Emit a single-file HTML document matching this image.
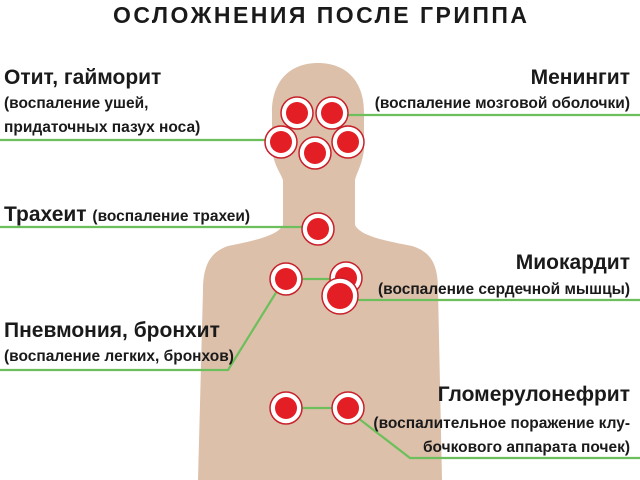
<!DOCTYPE html>
<html><head><meta charset="utf-8"><style>
html,body{margin:0;padding:0;background:#fff}
svg{display:block}
text{font-family:"Liberation Sans",sans-serif;font-weight:bold;fill:#1a1a1a}
.h{font-size:21px}
.s{font-size:15.5px}
</style></head><body>
<svg width="640" height="480" viewBox="0 0 640 480">
<path fill="#dcc0aa" d="M318,63 C347,63 364,82 364,112 L364,150 C362,165 357,172 355,180 L355,225 C360,235 380,240 412,246 C432,252 438,266 438,290 L442,480 L198,480 L203,290 C203,266 210,252 228,246 C258,240 278,235 283,225 L283,180 C280,172 274,165 272,150 L272,112 C272,82 289,63 318,63 Z"/>
<g stroke="#6cbf5a" stroke-width="2.2" fill="none">
<line x1="0" y1="140" x2="281" y2="140"/>
<line x1="332" y1="115" x2="640" y2="115"/>
<line x1="0" y1="227" x2="318" y2="227"/>
<line x1="286" y1="279" x2="346" y2="279"/>
<polyline points="277,291 228,370 0,370"/>
<line x1="340" y1="300" x2="640" y2="300"/>
<line x1="286" y1="408" x2="348" y2="408"/>
<polyline points="358,418 410,458 640,458"/>
</g>
<g fill="#e31e24" stroke="#c8202a" stroke-width="1.5">
<circle cx="297" cy="113" r="16" fill="#fff"/><circle cx="297" cy="113" r="11" stroke="none"/>
<circle cx="332" cy="113" r="16" fill="#fff"/><circle cx="332" cy="113" r="11" stroke="none"/>
<circle cx="281" cy="142" r="16" fill="#fff"/><circle cx="281" cy="142" r="11" stroke="none"/>
<circle cx="348" cy="142" r="16" fill="#fff"/><circle cx="348" cy="142" r="11" stroke="none"/>
<circle cx="315" cy="153" r="16" fill="#fff"/><circle cx="315" cy="153" r="11" stroke="none"/>
<circle cx="318" cy="229" r="16" fill="#fff"/><circle cx="318" cy="229" r="11" stroke="none"/>
<circle cx="286" cy="279" r="16" fill="#fff"/><circle cx="286" cy="279" r="11" stroke="none"/>
<circle cx="346" cy="278" r="16" fill="#fff"/><circle cx="346" cy="278" r="11" stroke="none"/>
<circle cx="340" cy="296" r="18" fill="#fff"/><circle cx="340" cy="296" r="13" stroke="none"/>
<circle cx="286" cy="408" r="16" fill="#fff"/><circle cx="286" cy="408" r="11" stroke="none"/>
<circle cx="348" cy="408" r="16" fill="#fff"/><circle cx="348" cy="408" r="11" stroke="none"/>
</g>
<text x="320" y="23" text-anchor="middle" style="font-size:23px" textLength="414">ОСЛОЖНЕНИЯ ПОСЛЕ ГРИППА</text>
<text x="4" y="84" class="h">Отит, гайморит</text>
<text x="4" y="108" class="s">(воспаление ушей,</text>
<text x="4" y="132" class="s">придаточных пазух носа)</text>
<text x="630" y="84" class="h" text-anchor="end">Менингит</text>
<text x="630" y="108" class="s" text-anchor="end">(воспаление мозговой оболочки)</text>
<text x="4" y="221" class="h">Трахеит <tspan class="s">(воспаление трахеи)</tspan></text>
<text x="630" y="269" class="h" text-anchor="end">Миокардит</text>
<text x="630" y="294" class="s" text-anchor="end">(воспаление сердечной мышцы)</text>
<text x="4" y="337" class="h">Пневмония, бронхит</text>
<text x="4" y="361" class="s">(воспаление легких, бронхов)</text>
<text x="630" y="401" class="h" text-anchor="end">Гломерулонефрит</text>
<text x="630" y="428" class="s" text-anchor="end">(воспалительное поражение клу-</text>
<text x="630" y="452" class="s" text-anchor="end">бочкового аппарата почек)</text>
</svg>
</body></html>
